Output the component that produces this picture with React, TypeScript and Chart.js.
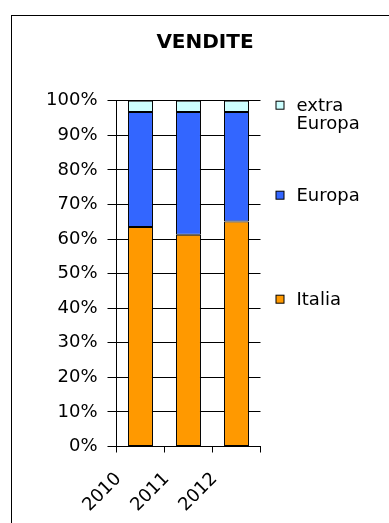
import React, { useEffect, useRef } from "react";
import { Chart, registerables } from "chart.js";

Chart.register(...registerables);

const categories = ["2010", "2011", "2012"];
const seriesNames = ["Italia", "Europa", "extra Europa"];
const italia = [63.5, 61.2, 65.1];
const europa = [33.2, 35.5, 31.6];
const extraEuropa = [3.3, 3.3, 3.3];
const seriesColors = ["#FF9900", "#3366FF", "#CCFFFF"];
const yTicks = [0, 10, 20, 30, 40, 50, 60, 70, 80, 90, 100];

const FONT = "'DejaVu Sans', 'Liberation Sans', Arial, sans-serif";

const sideLegend = {
  id: "sideLegend",
  afterDraw(chart: any) {
    const ctx = chart.ctx;
    const area = chart.chartArea;
    const boxX = area.right + 15;
    const textX = area.right + 36;
    const maxW = chart.width - textX - 2;
    const offsets = [199, 95, 5]; // Italia, Europa, extra (from top of area)
    const lineH = 18;
    ctx.save();
    ctx.font = `18px ${FONT}`;
    ctx.textBaseline = "middle";
    ctx.textAlign = "left";
    chart.data.datasets.forEach((ds: any, i: number) => {
      const cy = area.top + offsets[i];
      ctx.fillStyle = ds.backgroundColor;
      ctx.fillRect(boxX + 0.5, cy - 4.5, 8, 8);
      ctx.strokeStyle = "#000";
      ctx.lineWidth = 1;
      ctx.strokeRect(boxX + 0.5, cy - 4.5, 8, 8);
      const words = String(ds.label).split(" ");
      const lines: string[] = [];
      let cur = "";
      words.forEach((w) => {
        const test = cur ? cur + " " + w : w;
        if (cur && ctx.measureText(test).width > maxW) {
          lines.push(cur);
          cur = w;
        } else cur = test;
      });
      if (cur) lines.push(cur);
      ctx.fillStyle = "#000";
      lines.forEach((ln, k) => ctx.fillText(ln, textX, cy + 1 + k * lineH));
    });
    ctx.restore();
  },
};

export default function App() {
  const ref = useRef<HTMLCanvasElement>(null);
  useEffect(() => {
    if (!ref.current) return;
    const values = [italia, europa, extraEuropa];
    const chart = new Chart(ref.current, {
      type: "bar",
      data: {
        labels: categories,
        datasets: seriesNames.map((name, i) => ({
          label: name,
          data: values[i],
          backgroundColor: seriesColors[i],
          borderColor: "#000",
          borderWidth: 1,
          borderSkipped: false,
          categoryPercentage: 1,
          barPercentage: 0.52,
        })),
      },
      options: {
        animation: false,
        responsive: true,
        maintainAspectRatio: false,
        layout: { padding: 0 },
        plugins: {
          legend: { display: false },
          tooltip: { enabled: false },
          title: {
            display: true,
            text: "VENDITE",
            color: "#000",
            font: { family: FONT, size: 20, weight: "bold", lineHeight: 1.2 },
            padding: { top: 15, bottom: 45.7 },
          },
        },
        scales: {
          x: {
            stacked: true,
            offset: true,
            border: { display: true, color: "#000", width: 1 },
            grid: {
              display: true,
              offset: true,
              drawOnChartArea: false,
              drawTicks: true,
              tickLength: 6,
              color: "#000",
            },
            ticks: {
              color: "#000",
              font: { family: FONT, size: 18 },
              minRotation: 45,
              maxRotation: 45,
              labelOffset: -22,
              padding: 16,
              autoSkip: false,
            },
            afterFit(scale: any) {
              scale.height = 89.5;
            },
          },
          y: {
            stacked: true,
            min: 0,
            max: 100,
            border: { display: true, color: "#000", width: 1 },
            grid: {
              color: "#000",
              lineWidth: 1,
              tickLength: 9,
              drawTicks: true,
            },
            afterBuildTicks(scale: any) {
              scale.ticks = yTicks.map((v) => ({ value: v }));
            },
            ticks: {
              color: "#000",
              font: { family: FONT, size: 18 },
              padding: 10,
              callback: (v: any) => v + "%",
            },
            afterFit(scale: any) {
              scale.width = 104.5;
            },
          },
          legendSpace: {
            type: "linear",
            axis: "y",
            position: "right",
            display: true,
            grid: { display: false, drawTicks: false },
            border: { display: false },
            ticks: { display: false },
            afterFit(scale: any) {
              scale.width = 137.5;
            },
          },
        },
      },
      plugins: [sideLegend],
    });
    return () => chart.destroy();
  }, []);

  return (
    <div
      style={{
        position: "fixed",
        left: 0,
        top: 0,
        width: 389,
        height: 523,
        overflow: "hidden",
        background: "#fff",
      }}
    >
      <div
        style={{
          position: "absolute",
          left: 11,
          top: 15,
          width: 388,
          height: 540,
          border: "1px solid #000",
          boxSizing: "border-box",
        }}
      >
        <div style={{ position: "absolute", left: 0, top: 0, width: 386, height: 520 }}>
          <canvas ref={ref} />
        </div>
      </div>
    </div>
  );
}
